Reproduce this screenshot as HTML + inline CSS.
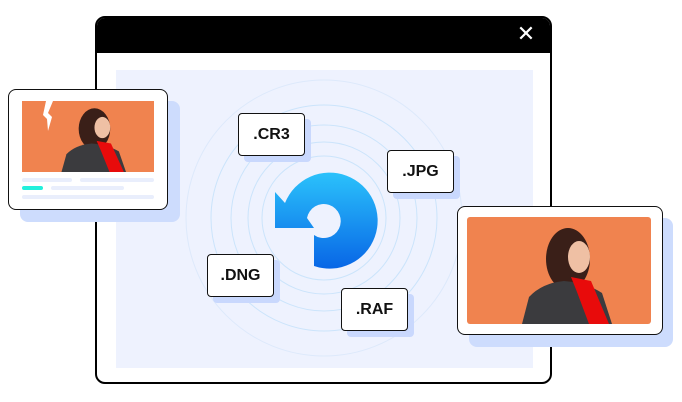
<!DOCTYPE html>
<html><head><meta charset="utf-8"><style>
body{margin:0;width:682px;height:402px;background:#fff;position:relative;overflow:hidden;font-family:"Liberation Sans",Arial,sans-serif}
.abs{position:absolute}
.win{left:95px;top:16px;width:457px;height:368px;border:2px solid #000;border-radius:10px;background:#fff;overflow:hidden;box-sizing:border-box}
.bar{left:0;top:0;width:100%;height:35px;background:#000}
.tag{position:absolute;width:67px;height:43px;border:1.5px solid #111;border-radius:4px;background:#fff;box-sizing:border-box;font-weight:bold;font-size:16px;line-height:41px;text-align:center;color:#111;box-shadow:6px 6px 0 #c9d8fd}
.card{border:1.5px solid #111;border-radius:8px;background:#fff;box-sizing:border-box}
.sh{background:#cddcfd;border-radius:8px}
</style></head><body>
<svg width="0" height="0" style="position:absolute"><defs>
<g id="fig">
<rect width="184" height="107" fill="#f0834f"/>
<ellipse cx="101" cy="42" rx="22" ry="31" fill="#3a1f18"/>
<path d="M55 107 L62 80 Q75 66 97 64 Q120 66 135 76 L145 107Z" fill="#3b3b3e"/>
<ellipse cx="112" cy="40" rx="11" ry="16" fill="#efc0a4"/>
<path d="M104 60 L124 64 L142 107 L122 107 L110 75Z" fill="#e80b0b"/>
</g>
<linearGradient id="g" x1="0" y1="0" x2="0" y2="1"><stop offset="0" stop-color="#2bc2fb"/><stop offset="1" stop-color="#0866e6"/></linearGradient>
</defs></svg>

<div class="abs win"><div class="abs bar"></div>
<div class="abs" style="left:19px;top:52px;width:417px;height:298px;background:#eef2fe"></div>
</div>
<svg class="abs" style="left:0;top:0" width="682" height="402">
<text x="526" y="41" fill="#fff" font-size="22" text-anchor="middle" font-family="DejaVu Sans">✕</text>
<g fill="none" stroke="#cbe4fb" stroke-width="1">
<circle cx="324" cy="218" r="62"/><circle cx="324" cy="218" r="76"/><circle cx="324" cy="218" r="93"/><circle cx="324" cy="218" r="113"/><circle cx="324" cy="218" r="138" stroke="#dde9fb"/>
</g>
<path d="M314 266 L314 235 A17 17 0 1 0 307 218 L314 228 L275 228 L275 192 L285 203 A48 48 0 1 1 314 266Z" fill="url(#g)"/>
</svg>
<div class="tag" style="left:238px;top:113px">.CR3</div>
<div class="tag" style="left:387px;top:150px">.JPG</div>
<div class="tag" style="left:207px;top:254px">.DNG</div>
<div class="tag" style="left:341px;top:288px">.RAF</div>

<div class="abs sh" style="left:20px;top:101px;width:160px;height:121px"></div>
<div class="abs card" style="left:8px;top:89px;width:160px;height:121px"></div>
<svg class="abs" style="left:22px;top:101px" width="132" height="71"><g transform="scale(0.7174,0.6636)"><use href="#fig"/></g>
<path d="M24 0 L31 0 L26 12 L30 16 L26 30 L25 18 L21 14Z" fill="#fff"/></svg>
<div class="abs" style="left:22px;top:178px;width:50px;height:4px;background:#e9eefc;border-radius:2px"></div>
<div class="abs" style="left:80px;top:178px;width:74px;height:4px;background:#e9eefc;border-radius:2px"></div>
<div class="abs" style="left:22px;top:186px;width:21px;height:4px;background:#22f0dc;border-radius:2px"></div>
<div class="abs" style="left:51px;top:186px;width:73px;height:4px;background:#e9eefc;border-radius:2px"></div>
<div class="abs" style="left:22px;top:195px;width:132px;height:4px;background:#e9eefc;border-radius:2px"></div>

<div class="abs sh" style="left:469px;top:218px;width:204px;height:129px"></div>
<div class="abs card" style="left:457px;top:206px;width:206px;height:129px"></div>
<svg class="abs" style="left:467px;top:217px;border-radius:3px" width="184" height="107"><use href="#fig"/></svg>
</body></html>
